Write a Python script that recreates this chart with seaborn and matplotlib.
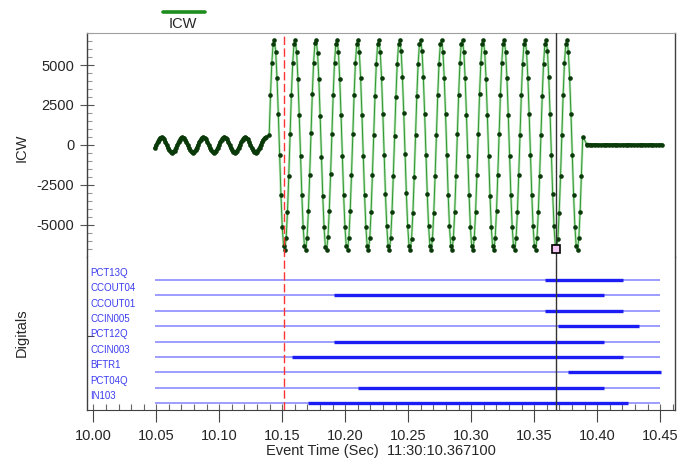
import numpy as np
import pandas as pd
import matplotlib
matplotlib.use("Agg")
import matplotlib.pyplot as plt
from matplotlib.ticker import MultipleLocator, FormatStrFormatter
import seaborn as sns

# ---- ICW waveform ----
SAMPLE_DT = 0.001037          # sample clock of the recorder (s)
PRE_T0 = 10.049               # start of pre-fault segment
FAULT_T0 = 10.1396            # start of fault segment
POST_T0 = 10.3918             # start of post-trip segment
POST_DT = 0.0022

icw_pre = [
    -200, -20, 170, 330, 440, 480, 450, 350, 200, 20, -170, -330, -440, -480, -450, -350,
    -210, -30, 160, 320, 440, 470, 450, 340, 190, 10, -180, -340, -450, -480, -440, -340,
    -190, -10, 180, 330, 450, 480, 440, 350, 200, 30, -160, -330, -440, -470, -450, -350,
    -200, -20, 170, 340, 440, 490, 450, 360, 210, 20, -170, -320, -440, -480, -460, -350,
    -200, -30, 160, 330, 430, 480, 450, 350, 200, 20, -170, -330, -450, -480, -450, -340,
    -190, -20, 170, 330, 440, 480,
]

icw_fault = [
    650, 3110, 5100, 6320, 6560, 5820, 4180, 1910, -650, -3110, -5100, -6320, -6560, -5820, -4180, -1910,
    690, 3140, 5120, 6330, 6550, 5800, 4150, 1870, -690, -3140, -5120, -6330, -6550, -5800, -4150, -1870,
    720, 3170, 5150, 6350, 6550, 5780, 4120, 1840, -720, -3170, -5150, -6350, -6550, -5780, -4120, -1840,
    700, 3150, 5130, 6340, 6550, 5790, 4140, 1860, -700, -3150, -5130, -6340, -6550, -5790, -4140, -1860,
    660, 3120, 5100, 6320, 6560, 5820, 4170, 1900, -660, -3120, -5100, -6320, -6560, -5820, -4170, -1900,
    610, 3070, 5070, 6300, 6560, 5840, 4210, 1950, -610, -3070, -5070, -6300, -6560, -5840, -4210, -1950,
    570, 3030, 5040, 6290, 6570, 5860, 4240, 1990, -570, -3030, -5040, -6290, -6570, -5860, -4240, -1990,
    600, 3060, 5060, 6300, 6560, 5850, 4220, 1960, -600, -3060, -5060, -6300, -6560, -5850, -4220, -1960,
    640, 3100, 5090, 6310, 6560, 5830, 4190, 1920, -640, -3100, -5090, -6310, -6560, -5830, -4190, -1920,
    680, 3130, 5110, 6330, 6550, 5810, 4160, 1880, -680, -3130, -5110, -6330, -6550, -5810, -4160, -1880,
    710, 3160, 5140, 6340, 6550, 5790, 4130, 1850, -710, -3160, -5140, -6340, -6550, -5790, -4130, -1850,
    680, 3130, 5110, 6330, 6550, 5810, 4160, 1880, -680, -3130, -5110, -6330, -6550, -5810, -4160, -1880,
    640, 3100, 5090, 6310, 6560, 5830, 4190, 1920, -640, -3100, -5090, -6310, -6560, -5830, -4190, -1920,
    600, 3060, 5060, 6300, 6560, 5850, 4220, 1960, -600, -3060, -5060, -6300, -6560, -5850, -4220, -1960,
    650, 3110, 5100, 6320, 6560, 5820, 4180, 1910, -650, -3110, -5100, -6320, -6560, -5820, -4180, -1910,
    520,
]

icw_post = [30, 10, 0, 10, 0, -10, 0, 10, 0, 0, 10, 0, -10, 0,
            0, 10, 0, 0, -10, 0, 10, 0, 0, 10, 0, -10, 0, 0]

# ---- digital channels ----
dig_names = ["PCT13Q", "CCOUT04", "CCOUT01", "CCIN005", "PCT12Q",
             "CCIN003", "BFTR1", "PCT04Q", "IN103"]
dig_on = [10.3585, 10.1910, 10.3585, 10.3686, 10.1910, 10.1579, 10.3767, 10.2101, 10.1704]
dig_off = [10.4202, 10.4053, 10.4202, 10.4331, 10.4053, 10.4202, 10.4506, 10.4053, 10.4244]
DIG_START = 10.049
DIG_END = 10.4497

TRIGGER_T = 10.1515
CURSOR_T = 10.3671
CURSOR_VAL = -6500

# build the sample table
t_pre = PRE_T0 + SAMPLE_DT * np.arange(len(icw_pre))
t_fault = FAULT_T0 + SAMPLE_DT * np.arange(len(icw_fault))
t_post = POST_T0 + POST_DT * np.arange(len(icw_post))
df = pd.DataFrame({
    "time": np.concatenate([t_pre, t_fault, t_post]),
    "ICW": icw_pre + icw_fault + icw_post,
})
df_pre = df.iloc[:len(icw_pre)]
df_post = df.iloc[-len(icw_post):]

sns.set_style("ticks")
plt.rcParams["font.family"] = ["Liberation Sans", "DejaVu Sans"]
plt.rcParams["axes.unicode_minus"] = False

fig = plt.figure(figsize=(6.92, 4.59), dpi=100)
gs = fig.add_gridspec(2, 1, height_ratios=[224, 153], hspace=0,
                      left=0.1253, right=0.9754, top=0.9281, bottom=0.1068)
ax = fig.add_subplot(gs[0])
axd = fig.add_subplot(gs[1], sharex=ax)

# waveform: light halo, thin green line, dark sample dots
sns.lineplot(data=df, x="time", y="ICW", ax=ax, sort=False, estimator=None,
             color="#b8e4b8", lw=1.8)
sns.lineplot(data=df, x="time", y="ICW", ax=ax, sort=False, estimator=None,
             color="#2e962e", lw=0.7)
# densely sampled stretches read as a solid dark band
for part in (df_pre, df_post):
    sns.lineplot(data=part, x="time", y="ICW", ax=ax, sort=False, estimator=None,
                 color="#0d440d", lw=2.6)
sns.scatterplot(data=df, x="time", y="ICW", ax=ax, color="#0a3a0a", s=11,
                linewidth=0, zorder=3)
ax.plot([CURSOR_T], [CURSOR_VAL], marker="s", ms=5.5, mfc="#f4c6f4",
        mec="black", mew=1.2, zorder=5)

for a in (ax, axd):
    a.axvline(TRIGGER_T, color="#ff3333", lw=1, dashes=(6, 2.5), zorder=4)
    a.axvline(CURSOR_T, color="#333333", lw=1, zorder=4)

# digitals
n = len(dig_names)
for i, name in enumerate(dig_names):
    y = n - 1 - i
    axd.hlines(y, DIG_START, DIG_END, color="#8c8cff", lw=1.2)
    axd.hlines(y, dig_on[i], dig_off[i], color="#1c1cf5", lw=2.4)
    axd.text(0.006, y + 0.47, name, transform=axd.get_yaxis_transform(),
             color="#3c3cf0", fontsize=7, ha="left", va="center")

ax.set_xlim(9.99476, 10.4617)
ax.set_ylim(-7000, 7000)
axd.set_ylim(-0.435, 9.49)

# spines
ax.spines["bottom"].set_visible(False)
axd.spines["top"].set_visible(False)
ax.spines["top"].set_color("#a0a0a0")
for a in (ax, axd):
    for s in ("left", "right"):
        a.spines[s].set_color("#404040")
        a.spines[s].set_linewidth(1)
axd.spines["bottom"].set_color("#404040")

# ticks
ax.yaxis.set_major_locator(MultipleLocator(2500))
ax.yaxis.set_minor_locator(MultipleLocator(500))
ax.tick_params(axis="y", which="major", direction="inout", length=9.6, width=0.8,
               color="#555555", labelsize=10.5, pad=4)
ax.tick_params(axis="y", which="minor", direction="in", length=3.6, width=0.8,
               color="#999999")
ax.tick_params(axis="x", which="both", bottom=False, labelbottom=False)
ax.set_xlabel("")
ax.set_ylabel("")

axd.xaxis.set_major_locator(MultipleLocator(0.05))
axd.xaxis.set_minor_locator(MultipleLocator(0.01))
axd.xaxis.set_major_formatter(FormatStrFormatter("%.2f"))
axd.xaxis.remove_overlapping_locs = False
axd.tick_params(axis="x", which="major", direction="out", length=8.4, width=0.8,
                color="#444444", labelsize=10.5, pad=5)
axd.tick_params(axis="x", which="minor", direction="in", length=4.1, width=0.8,
                color="#666666")
axd.set_yticks([4.36])
axd.set_yticklabels([])
axd.tick_params(axis="y", which="major", direction="in", length=4.8, width=0.8,
                color="#444444")
axd.set_xlabel("Event Time (Sec)  11:30:10.367100", fontsize=10.5, labelpad=1)
axd.set_ylabel("")

fig.text(22 / 692, 1 - 148 / 459, "ICW", rotation=90, ha="center", va="center",
         fontsize=10.5)
fig.text(22 / 692, 1 - 333 / 459, "Digitals", rotation=90, ha="center", va="center",
         fontsize=10.5)

# legend swatch above the plot
fig.add_artist(plt.Line2D([163 / 692, 205 / 692], [1 - 12 / 459] * 2,
                          color="#1e8c1e", lw=2.6, transform=fig.transFigure))
fig.text(182.5 / 692, 1 - 24 / 459, "ICW", ha="center", va="center", fontsize=10.5)

fig.savefig("out.png", dpi=100)
